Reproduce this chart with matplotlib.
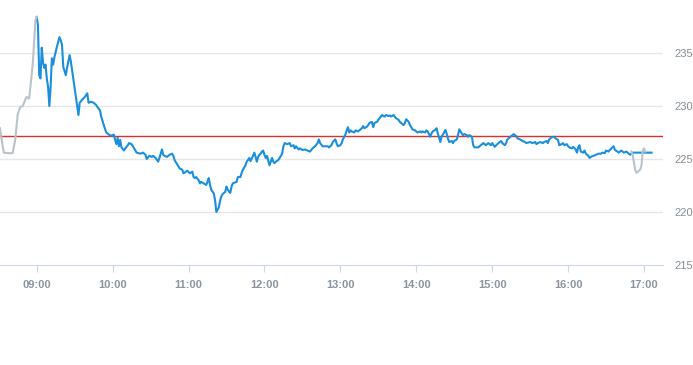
import matplotlib
matplotlib.use("Agg")
import matplotlib.pyplot as plt
import matplotlib.dates as mdates
import pandas as pd

# minutes after the 09:00 open, and the price at that minute
session_min = [
    0, 1, 2, 3, 4, 5, 6, 7, 8, 9, 10, 11, 12, 13, 14, 15, 16, 18, 19, 20,
    21, 23, 24, 26, 27, 29, 31, 33, 34, 36, 38, 40, 41, 43, 45, 47, 48, 50, 51, 53,
    55, 57, 59, 61, 62, 63, 64, 65, 66, 67, 69, 70, 72, 73, 75, 77, 79, 82, 84, 86,
    87, 89, 91, 92, 94, 96, 97, 99, 100, 101, 103, 105, 107, 108, 109, 111, 112, 113, 115, 116,
    118, 119, 121, 123, 124, 125, 126, 128, 129, 130, 132, 134, 135, 136, 137, 138, 140, 141, 142, 144,
    145, 146, 147, 149, 150, 151, 153, 154, 155, 158, 159, 161, 162, 163, 165, 166, 167, 168, 169, 171,
    172, 173, 174, 175, 176, 177, 178, 179, 180, 181, 182, 184, 185, 186, 187, 188, 189, 191, 192, 194,
    195, 196, 198, 200, 201, 203, 204, 205, 207, 208, 210, 212, 214, 216, 218, 220, 222, 223, 224, 226,
    228, 230, 231, 233, 234, 236, 237, 238, 240, 241, 242, 244, 245, 246, 247, 248, 249, 251, 252, 254,
    255, 257, 258, 259, 261, 262, 263, 265, 266, 267, 269, 270, 271, 273, 274, 275, 276, 278, 279, 280,
    282, 283, 284, 286, 287, 288, 290, 291, 292, 294, 295, 296, 297, 299, 300, 301, 303, 304, 305, 307,
    308, 309, 311, 312, 313, 315, 316, 317, 318, 319, 320, 322, 323, 324, 325, 326, 328, 329, 330, 332,
    333, 334, 336, 337, 338, 340, 341, 342, 344, 345, 346, 349, 350, 352, 353, 355, 357, 359, 360, 362,
    364, 365, 367, 368, 370, 371, 372, 374, 376, 377, 379, 380, 382, 384, 386, 387, 390, 392, 394, 395,
    396, 398, 400, 401, 403, 404, 405, 407, 409, 410, 412, 413, 415, 416, 417, 419, 420, 421, 423, 424,
    426, 427, 428, 429, 430, 432, 433, 434, 436, 437, 438, 440, 442, 444, 446, 447, 449, 450, 452, 453,
    455, 456, 457, 459, 460, 462, 464, 466, 467, 469, 471, 473, 477, 486,
]
session_px = [
    238.4, 237.6, 232.9, 232.6, 235.5, 234.1, 233.6, 233.9, 232.6, 231.8, 230.0, 231.8, 234.5, 233.9, 234.6, 235.1, 235.6, 236.5, 236.2, 235.8,
    233.7, 232.9, 233.6, 234.8, 234.2, 232.5, 230.85, 229.15, 230.3, 230.6, 230.85, 231.2, 230.3, 230.4, 230.3, 230.1, 229.9, 229.6, 229.0, 228.2,
    227.5, 227.3, 227.2, 227.3, 226.8, 226.4, 227.0, 226.2, 226.8, 226.1, 225.8, 226.0, 226.3, 226.5, 226.4, 226.0, 225.6, 225.5, 225.6, 225.4,
    225.0, 225.3, 225.2, 225.3, 225.1, 224.75, 225.1, 225.9, 225.4, 225.3, 225.2, 225.4, 225.5, 225.3, 224.9, 224.5, 224.3, 224.1, 224.0, 223.65,
    223.8, 223.9, 223.65, 223.8, 223.3, 223.2, 223.3, 223.0, 222.7, 222.85, 222.7, 222.55, 222.85, 223.2, 222.55, 222.1, 221.75, 221.1, 220.0, 220.45,
    221.1, 221.5, 221.7, 221.9, 222.4, 222.1, 221.8, 222.4, 222.7, 222.85, 223.3, 223.3, 223.7, 224.0, 224.4, 224.75, 224.9, 225.1, 224.8, 225.3,
    225.6, 225.2, 224.75, 225.2, 225.4, 225.5, 225.7, 225.8, 225.4, 225.1, 225.3, 224.4, 224.75, 225.1, 224.75, 224.6, 224.75, 224.9, 225.1, 225.5,
    226.2, 226.5, 226.4, 226.5, 226.2, 226.3, 226.0, 226.2, 225.9, 226.0, 225.85, 225.9, 225.8, 225.7, 226.0, 226.2, 226.5, 226.85, 226.5, 226.2,
    226.2, 226.2, 226.1, 226.3, 226.6, 226.85, 226.5, 226.2, 226.3, 226.5, 226.85, 227.3, 227.7, 228.0, 227.5, 227.7, 227.6, 227.5, 227.7, 227.6,
    227.7, 227.9, 228.1, 227.9, 228.05, 228.2, 228.4, 228.5, 228.0, 228.4, 228.5, 228.7, 228.85, 229.15, 229.05, 229.0, 229.15, 229.05, 229.1, 229.0,
    229.15, 229.0, 228.85, 228.7, 228.5, 228.4, 228.2, 228.4, 228.75, 228.5, 228.2, 228.0, 227.8, 227.7, 227.6, 227.5, 227.6, 227.5, 227.6, 227.5,
    227.7, 227.6, 227.1, 227.4, 227.6, 227.75, 227.9, 227.4, 227.05, 226.6, 227.1, 227.5, 227.75, 227.4, 226.95, 226.6, 226.7, 226.5, 226.7, 226.85,
    227.25, 227.8, 227.4, 227.25, 227.35, 227.25, 227.1, 227.25, 227.1, 226.3, 226.1, 226.1, 226.2, 226.4, 226.5, 226.3, 226.5, 226.3, 226.5, 226.15,
    226.4, 226.5, 226.7, 226.5, 226.3, 226.5, 226.85, 227.05, 227.25, 227.35, 227.15, 226.95, 226.85, 226.7, 226.6, 226.5, 226.6, 226.5, 226.6, 226.4,
    226.5, 226.6, 226.5, 226.6, 226.7, 226.5, 226.85, 227.05, 227.1, 226.95, 226.8, 226.3, 226.4, 226.5, 226.3, 226.4, 226.2, 226.1, 226.0, 226.15,
    225.9, 225.6, 226.1, 226.3, 225.7, 225.6, 225.8, 225.5, 225.3, 225.1, 225.2, 225.3, 225.4, 225.5, 225.5, 225.6, 225.55, 225.8, 225.7, 225.85,
    226.1, 226.2, 225.85, 225.7, 225.6, 225.8, 225.6, 225.7, 225.6, 225.4, 225.6, 225.6, 225.6, 225.6,
]

# pre-market and after-hours trades (grey)
pre_min = [-29, -27, -26, -23, -19, -17, -15, -13, -11, -9, -8, -6, -4, -3, -1, 0]
pre_px = [227.9, 226.3, 225.6, 225.55, 225.55, 226.8, 229.2, 229.9, 230.0, 230.6, 230.85, 230.7,
          232.9, 234.15, 238.1, 238.4]
post_min = [470, 471, 473, 474, 477, 478, 479, 480, 481]
post_px = [225.7, 225.4, 224.0, 223.7, 224.0, 224.4, 225.8, 226.0, 225.7]

prev_close = 227.15
y_ticks = [215, 220, 225, 230, 235]

open_time = pd.Timestamp("2024-01-02 09:00")


def to_time(mins):
    return open_time + pd.to_timedelta(mins, unit="m")


fig = plt.figure(figsize=(6.93, 3.65), dpi=100)
ax = fig.add_axes([0, 100 / 365, 663 / 693, 265 / 365])

for y in y_ticks[1:]:
    ax.axhline(y, color="#e6e6e6", lw=1, zorder=0)

ax.axhline(prev_close, color="#d9312b", lw=1, zorder=3)
ax.plot(to_time(session_min), session_px, color="#1a8fdc", lw=1.5, zorder=4)
ax.plot(to_time(pre_min), pre_px, color="#b9c3ca", lw=1.5, zorder=5)
ax.plot(to_time(post_min), post_px, color="#b9c3ca", lw=1.5, zorder=5)

ax.set_xlim(to_time(-29), to_time(495))
ax.set_ylim(215, 240)

ax.xaxis.set_major_locator(mdates.HourLocator())
ax.xaxis.set_major_formatter(mdates.DateFormatter("%H:%M"))
ax.set_yticks(y_ticks)
ax.yaxis.tick_right()

for side in ["top", "left", "right"]:
    ax.spines[side].set_visible(False)
ax.spines["bottom"].set_color("#ccd6eb")

ax.tick_params(axis="x", length=5, color="#ccd6eb", pad=6, labelsize=8,
               labelcolor="#8a949e")
ax.tick_params(axis="y", length=0, pad=8.5, labelsize=8, labelcolor="#868e96")
for lab in ax.get_xticklabels():
    lab.set_fontweight("bold")
    lab.set_family("Liberation Sans")
for lab in ax.get_yticklabels():
    lab.set_family("Liberation Sans")

fig.savefig("out.png", dpi=100)
